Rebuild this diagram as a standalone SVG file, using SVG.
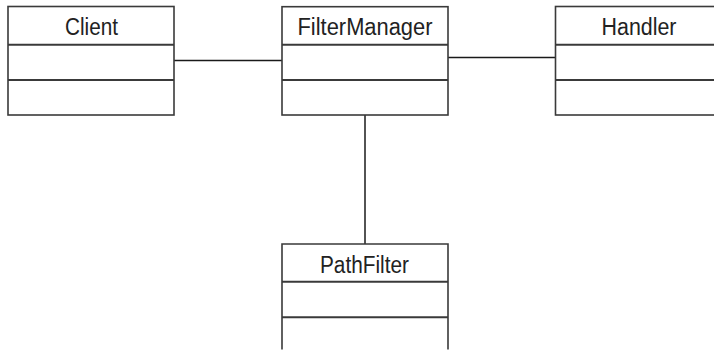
<svg xmlns="http://www.w3.org/2000/svg" width="714" height="351" viewBox="0 0 714 351">
<style>
.box{fill:#fff;stroke:#3a3a3a;stroke-width:1.6}
.div{stroke:#3a3a3a;stroke-width:2}
.lbl{font-family:"Liberation Sans",Arial,sans-serif;font-size:23px;fill:#222;text-anchor:middle}
.conn{stroke:#1a1a1a;stroke-width:1.5;fill:none}
</style>
<rect width="714" height="351" fill="#fff"/>
<g id="connectors">
<line class="conn" x1="174" y1="60.5" x2="282" y2="60.5"/>
<line class="conn" x1="448" y1="57.5" x2="555" y2="57.5"/>
<line class="conn" x1="365" y1="115" x2="365" y2="244"/>
</g>
<g id="client">
<rect class="box" x="8" y="6.5" width="166" height="108.5"/>
<line class="div" x1="8" y1="44.7" x2="174" y2="44.7"/>
<line class="div" x1="8" y1="80" x2="174" y2="80"/>
<text class="lbl" x="91.5" y="35" textLength="53" lengthAdjust="spacingAndGlyphs">Client</text>
</g>
<g id="filtermanager">
<rect class="box" x="282" y="6.7" width="166" height="108.3"/>
<line class="div" x1="282" y1="44.7" x2="448" y2="44.7"/>
<line class="div" x1="282" y1="80" x2="448" y2="80"/>
<text class="lbl" x="365" y="35" textLength="135" lengthAdjust="spacingAndGlyphs">FilterManager</text>
</g>
<g id="handler">
<rect class="box" x="555.5" y="6.5" width="168" height="108.5"/>
<line class="div" x1="555.5" y1="44.7" x2="723" y2="44.7"/>
<line class="div" x1="555.5" y1="80" x2="723" y2="80"/>
<text class="lbl" x="639" y="35" textLength="75" lengthAdjust="spacingAndGlyphs">Handler</text>
</g>
<g id="pathfilter">
<path class="box" d="M282 349.5 V244 H448 V349.5"/>
<line class="div" x1="282" y1="281.7" x2="448" y2="281.7"/>
<line class="div" x1="282" y1="317.3" x2="448" y2="317.3"/>
<text class="lbl" x="364.5" y="272.5" textLength="89" lengthAdjust="spacingAndGlyphs">PathFilter</text>
</g>
</svg>
